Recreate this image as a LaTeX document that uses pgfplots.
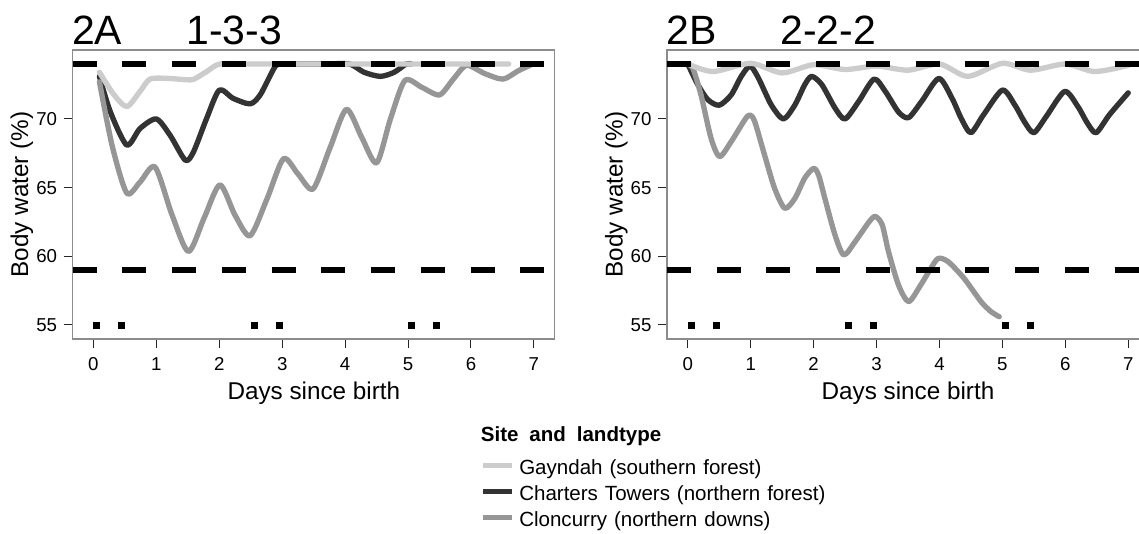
\documentclass[border=0pt]{standalone}
\usepackage{fontspec}
\setmainfont{Liberation Sans}
\usepackage{pgfplots}
\pgfplotsset{compat=1.18}
\definecolor{cG}{RGB}{204,204,204}
\definecolor{cC}{RGB}{51,51,51}
\definecolor{cK}{RGB}{150,150,150}
\definecolor{boxc}{RGB}{140,140,140}
\pgfplotsset{
  panel/.style={
    scale only axis, width=361.5pt, height=216.75pt, anchor=south west,
    xmin=-0.33, xmax=7.33, ymin=53.98, ymax=75.02,
    xtick={0,...,7}, ytick={55,60,65,70},
    tick align=outside, xtick pos=left, ytick pos=left,
    major tick length=6.75pt,
    tick style={black!85, line width=0.75pt},
    axis line style={boxc, line width=1.1pt},
    ticklabel style={font=\fontsize{14}{16}\selectfont, inner sep=0pt},
    xticklabel style={yshift=-7pt},
    yticklabel style={xshift=-4.75pt},
    /pgf/number format/assume math mode=true,
  },
  curve/.style={line width=4pt, smooth, tension=0.45, line join=round, line cap=round},
  hl/.style={black, line width=4.7pt, dash pattern=on 18pt off 19.3pt},
  dots/.style={only marks, mark=square*, mark size=2.25pt, black},
}
\begin{document}
\begin{tikzpicture}
% ---------------- Panel 2A ----------------
\begin{axis}[panel, at={(54.5pt,146.25pt)}]
\addplot[curve, cC] coordinates {(0.095,73.1) (0.27,70.5) (0.53,68.1) (0.74,69.3) (1.0,70.0) (1.22,68.8) (1.46,67.0) (1.59,67.6) (1.8,70.05) (2.0,72.1) (2.22,71.5) (2.49,71.1) (2.65,71.75) (2.86,73.6) (2.95,74.0) (3.3,74.0) (3.7,74.0) (4.07,74.0) (4.3,73.4) (4.56,73.1) (4.78,73.4) (4.97,74.0) (5.05,74.0)};
\addplot[curve, cK] coordinates {(0.095,72.7) (0.3,68.0) (0.53,64.6) (0.74,65.4) (0.98,66.5) (1.25,63.0) (1.51,60.35) (1.76,62.8) (2.01,65.2) (2.25,63.0) (2.49,61.5) (2.76,64.2) (3.02,67.1) (3.25,66.0) (3.49,64.9) (3.76,67.9) (4.02,70.7) (4.26,68.7) (4.5,66.8) (4.72,70.0) (4.95,72.8) (5.22,72.3) (5.5,71.75) (5.72,72.9) (5.93,73.9) (6.22,73.3) (6.51,72.9) (6.75,73.5) (6.98,74.0)};
\addplot[curve, cG] coordinates {(0.095,73.4) (0.32,71.8) (0.53,70.9) (0.74,72.0) (0.9,72.9) (1.2,72.95) (1.48,72.85) (1.6,72.9) (1.8,73.45) (2.01,74.0) (2.5,74.0) (3.0,74.0) (4.0,74.0) (5.0,74.0) (6.0,74.0) (6.6,74.0)};
\addplot[hl] coordinates {(-0.33,74) (7.33,74)};
\addplot[hl] coordinates {(-0.33,59) (7.33,59)};
\addplot[dots] coordinates {(0.05,55) (0.45,55) (2.55,55) (2.95,55) (5.05,55) (5.45,55)};
\end{axis}
% ---------------- Panel 2B ----------------
\begin{axis}[panel, at={(500.25pt,146.25pt)}]
\addplot[curve, cC] coordinates {(0,74.0) (0.16,72.5) (0.32,71.4) (0.5,71.0) (0.69,71.75) (0.85,73.1) (0.99,73.85) (1.12,73.0) (1.33,71.0) (1.52,70.0) (1.70,71.0) (1.86,72.5) (1.97,73.1) (2.13,72.5) (2.34,70.8) (2.5,70.0) (2.72,71.3) (2.96,72.9) (3.14,72.0) (3.35,70.5) (3.51,70.1) (3.72,71.3) (3.99,72.95) (4.2,71.5) (4.35,70.0) (4.5,69.0) (4.7,70.3) (5.0,72.1) (5.2,71.0) (5.35,69.8) (5.5,69.0) (5.7,70.2) (5.99,72.0) (6.2,70.9) (6.35,69.7) (6.49,69.0) (6.7,70.3) (7.0,71.9)};
\addplot[curve, cK] coordinates {(0,74.0) (0.08,73.7) (0.21,71.75) (0.37,68.6) (0.506,67.26) (0.69,68.35) (0.905,69.93) (0.985,70.3) (1.065,69.8) (1.22,67.38) (1.38,64.95) (1.54,63.5) (1.70,64.2) (1.86,65.7) (2.0,66.4) (2.08,65.9) (2.18,64.2) (2.34,61.55) (2.48,60.1) (2.66,61.07) (2.88,62.5) (2.98,62.9) (3.09,62.3) (3.19,60.34) (3.35,57.9) (3.51,56.7) (3.70,57.9) (3.86,59.1) (3.98,59.85) (4.14,59.6) (4.39,58.4) (4.66,56.7) (4.82,55.97) (4.95,55.6)};
\addplot[curve, cG] coordinates {(0,74.0) (0.4,73.45) (1.0,74.05) (1.5,73.35) (2.0,73.95) (2.5,73.6) (3.0,73.85) (3.5,73.55) (4.0,74.0) (4.45,73.1) (5.0,74.05) (5.45,73.55) (6.0,74.0) (6.47,73.45) (7.0,73.9)};
\addplot[hl] coordinates {(-0.33,74) (7.33,74)};
\addplot[hl] coordinates {(-0.33,59) (7.33,59)};
\addplot[dots] coordinates {(0.05,55) (0.45,55) (2.55,55) (2.95,55) (5.05,55) (5.45,55)};
\end{axis}
% ---------------- Texts ----------------
\begin{scope}[every node/.style={inner sep=0pt}]
\node[anchor=base west, font=\fontsize{30.7}{34}\selectfont] at (53.8pt,366.75pt) {2A};
\node[anchor=base west, font=\fontsize{30.7}{34}\selectfont] at (139.5pt,366.75pt) {1-3-3};
\node[anchor=base west, font=\fontsize{30.7}{34}\selectfont] at (499.5pt,366.75pt) {2B};
\node[anchor=base west, font=\fontsize{30.7}{34}\selectfont] at (585pt,366.75pt) {2-2-2};
\node[rotate=90, anchor=base, font=\fontsize{18.2}{20}\selectfont] at (21.15pt,254.6pt) {Body water (\%)};
\node[rotate=90, anchor=base, font=\fontsize{18.2}{20}\selectfont] at (466.9pt,254.6pt) {Body water (\%)};
\node[anchor=base, font=\fontsize{18.2}{20}\selectfont] at (235.4pt,100.5pt) {Days since birth};
\node[anchor=base, font=\fontsize{18.2}{20}\selectfont] at (681pt,100.5pt) {Days since birth};
% legend
\node[anchor=base west, font=\fontsize{15.4}{18}\selectfont\bfseries] at (360.5pt,69pt) {Site\hspace{0.53em}and\hspace{0.53em}landtype};
\draw[cG, line width=3.8pt] (362.5pt,51.2pt) -- (383.8pt,51.2pt);
\draw[cC, line width=3.8pt] (362.5pt,31.9pt) -- (383.8pt,31.9pt);
\draw[cK, line width=3.8pt] (362.5pt,12.5pt) -- (383.8pt,12.5pt);
\node[anchor=base west, font=\fontsize{15.4}{18}\selectfont] at (389.25pt,44.25pt) {Gayndah\hspace{0.34em}(southern\hspace{0.34em}forest)};
\node[anchor=base west, font=\fontsize{15.4}{18}\selectfont] at (389.25pt,24.9pt) {Charters\hspace{0.34em}Towers\hspace{0.34em}(northern\hspace{0.34em}forest)};
\node[anchor=base west, font=\fontsize{15.4}{18}\selectfont] at (389.25pt,5.55pt) {Cloncurry\hspace{0.34em}(northern\hspace{0.34em}downs)};
\end{scope}
\pgfresetboundingbox
\path[use as bounding box] (0,0) rectangle (854.25pt,400.5pt);
\end{tikzpicture}
\end{document}
